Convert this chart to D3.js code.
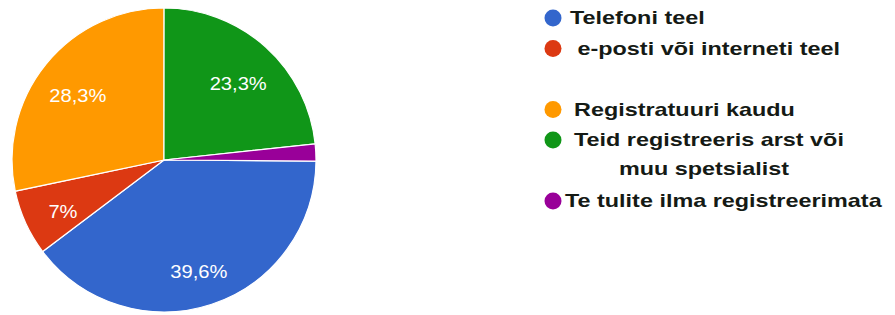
<!DOCTYPE html>
<html>
<head>
<meta charset="utf-8">
<script src="https://cdn.jsdelivr.net/npm/d3@7"></script>
<style>
  body { margin: 0; background: #fff; }
  svg { display: block; }
</style>
</head>
<body>
<div class="chart"></div>
<script>
// data
var categories = [
    "Telefoni teel",
    " e-posti või interneti teel",
    "Registratuuri kaudu",
    "Teid registreeris arst või\nmuu spetsialist",
    "Te tulite ilma registreerimata"
];
var values = [39.6, 7, 28.3, 23.3, 1.8];
var colors = ["#3366cc", "#dc3912", "#ff9900", "#109618", "#990099"];

var svgW = 895;
var svgH = 315;

var svg = d3.select(".chart")
    .append("svg")
    .attr("width", svgW)
    .attr("height", svgH);

// pie
var cx = 164, cy = 160, radius = 152;
var start = 90.4 * Math.PI / 180;

var pie = d3.pie()
    .sort(null)
    .value(function(d) { return d; })
    .startAngle(start)
    .endAngle(start + 2 * Math.PI);

var arc = d3.arc().innerRadius(0).outerRadius(radius);
var labelArc = d3.arc().innerRadius(radius * 0.73).outerRadius(radius * 0.73);

var g = svg.append("g")
    .attr("transform", "translate(" + cx + "," + cy + ")");

var slices = pie(values);

g.selectAll("path")
    .data(slices)
    .enter().append("path")
    .attr("d", arc)
    .attr("fill", function(d, i) { return colors[i]; })
    .attr("stroke", "#fff")
    .attr("stroke-width", 1.2);

g.selectAll("text.pct")
    .data(slices.filter(function(d) { return d.data >= 5; }))
    .enter().append("text")
    .attr("class", "pct")
    .attr("transform", function(d) {
        var c = labelArc.centroid(d);
        return "translate(" + c[0] + "," + (c[1] + 6) + ") scale(1.12,1)";
    })
    .attr("text-anchor", "middle")
    .attr("dy", "0.35em")
    .attr("fill", "#fff")
    .attr("font-family", "Liberation Sans, Arial, sans-serif")
    .attr("font-size", 18)
    .text(function(d) { return String(d.data).replace(".", ",") + "%"; });

// legend
var legX = 553, legTop = 18, lineH = 30.5;
var slot = [0, 1, 3, 4, 6];
var textX = [570, 571, 574, 574, 565];

var leg = svg.append("g").attr("class", "legend");

categories.forEach(function(name, i) {
    var y = legTop + slot[i] * lineH;
    leg.append("circle")
        .attr("cx", legX)
        .attr("cy", y)
        .attr("r", 8.5)
        .attr("fill", colors[i]);

    var parts = name.split("\n");
    parts.forEach(function(p, j) {
        var x = j == 0 ? textX[i] : (textX[i] + 130);
        leg.append("text")
            .attr("transform", "translate(" + x + "," + (y + j * lineH * 0.93) + ") scale(1.3,1)")
            .attr("text-anchor", j == 0 ? "start" : "middle")
            .attr("dy", "0.35em")
            .attr("fill", "#151a15")
            .attr("font-family", "Liberation Sans, Arial, sans-serif")
            .attr("font-weight", "bold")
            .attr("font-size", 18)
            .style("white-space", "pre")
            .text(p);
    });
});
</script>
</body>
</html>
